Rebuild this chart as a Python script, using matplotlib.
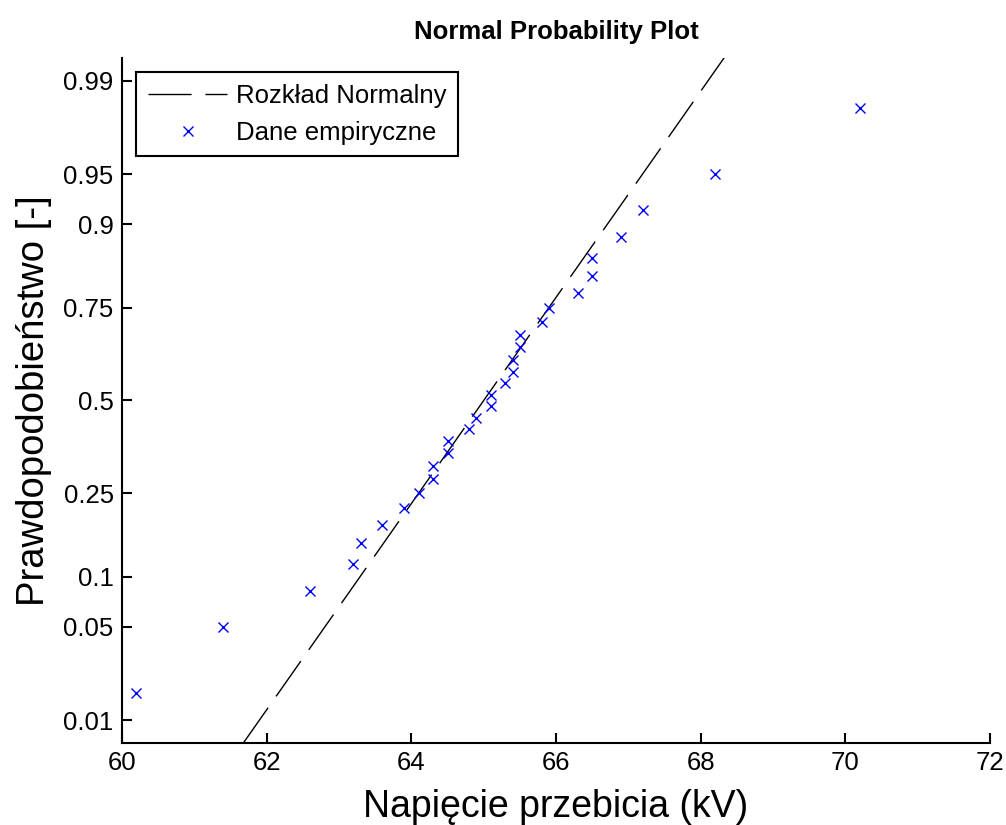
import numpy as np
import matplotlib
matplotlib.use("Agg")
import matplotlib.pyplot as plt
from statistics import NormalDist

plt.rcParams['font.family'] = ['Liberation Sans', 'DejaVu Sans']

# Breakdown voltage measurements (kV), sorted
voltage_kv = [60.2, 61.4, 62.6, 63.2, 63.3, 63.6, 63.9, 64.1, 64.3, 64.3,
              64.5, 64.5, 64.8, 64.9, 65.1, 65.1, 65.3, 65.4, 65.4, 65.5,
              65.5, 65.8, 65.9, 66.3, 66.5, 66.5, 66.9, 67.2, 68.2, 70.2]

prob_ticks = [0.01, 0.05, 0.1, 0.25, 0.5, 0.75, 0.9, 0.95, 0.99]
prob_labels = ['0.01', '0.05', '0.1', '0.25', '0.5', '0.75', '0.9', '0.95', '0.99']
x_ticks = [60, 62, 64, 66, 68, 70, 72]

nd = NormalDist()
x = np.sort(np.array(voltage_kv))
n = len(x)
# plotting positions (i - 0.5)/n on the normal quantile scale
pp = (np.arange(1, n + 1) - 0.5) / n
zz = np.array([nd.inv_cdf(p) for p in pp])

# reference line through the first and third quartiles
q1, q3 = np.percentile(x, [25, 75], method='hazen')
z1, z3 = nd.inv_cdf(0.25), nd.inv_cdf(0.75)
slope = (q3 - q1) / (z3 - z1)
center = q1 - slope * z1
zline = np.array([-2.49, 3.0])
xline = center + slope * zline

fig = plt.figure(figsize=(10.06, 8.25), dpi=100)
ax = fig.add_axes([0.1213, 0.0994, 0.8628, 0.8303])

line, = ax.plot(xline, zline, color='black', lw=1.0, label='Rozkład Normalny')
line.set_dashes([31, 10])
ax.plot(x, zz, linestyle='none', marker='x', color=(0, 0, 1), ms=7.5, mew=1.0,
        label='Dane empiryczne')

ax.set_xlim(60, 72)
ax.set_ylim(-2.49, 2.49)
ax.set_xticks(x_ticks)
ax.set_xticklabels([str(t) for t in x_ticks])
ax.set_yticks([nd.inv_cdf(p) for p in prob_ticks])
ax.set_yticklabels(prob_labels)

for s in ['top', 'right']:
    ax.spines[s].set_visible(False)
for s in ['left', 'bottom']:
    ax.spines[s].set_linewidth(1.5)
ax.tick_params(direction='in', length=7, width=1.5, labelsize=18.5, pad=6)

ax.set_title('Normal Probability Plot', fontsize=18.5, fontweight='bold', pad=14)
ax.set_xlabel('Napięcie przebicia (kV)', fontsize=27, labelpad=10)
ax.set_ylabel('Prawdopodobieństwo [-]', fontsize=27.5, labelpad=8)

leg = ax.legend(loc='upper left', fontsize=18.5, frameon=True, fancybox=False,
                edgecolor='black', framealpha=1, handlelength=3.1,
                handletextpad=0.35, borderaxespad=0.55, borderpad=0.45,
                labelspacing=0.5)
leg.get_frame().set_linewidth(1.5)

fig.savefig('out.png', dpi=100)
